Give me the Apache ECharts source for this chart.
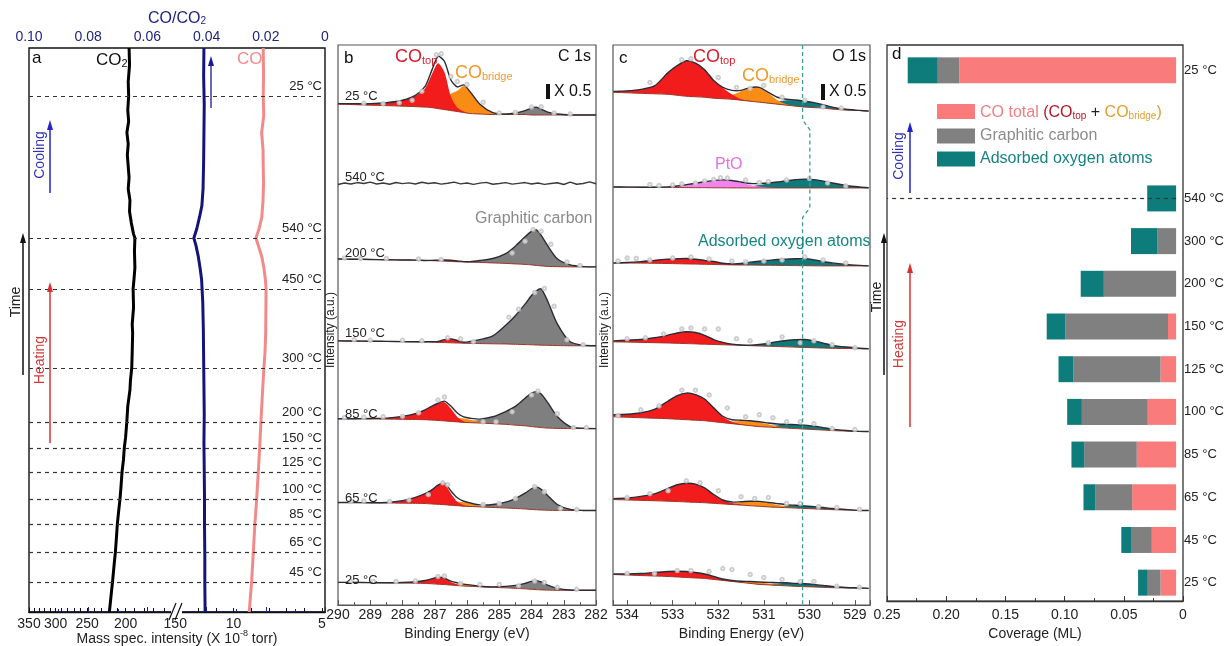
<!DOCTYPE html>
<html>
<head>
<meta charset="utf-8">
<script src="https://cdn.jsdelivr.net/npm/echarts@6/dist/echarts.min.js"></script>
<style>
html, body { margin: 0; padding: 0; background: #fff; }
#chart { width: 1227px; height: 646px; }
</style>
</head>
<body>
<div id="chart"></div>
<script>
var FONT = '"Liberation Sans", Arial, Helvetica, sans-serif';

// ---- panel a : mass spec traces against time (0 = start of heating) ----
var co2Time = [100, 97, 94, 91.5, 89, 87, 85, 83, 81, 79, 77, 75, 73, 71, 69, 67, 66.3, 64, 61, 59, 57.3, 54, 51, 49.5, 46, 43.3, 41, 39.4, 36.5, 33.7, 31, 29.1, 27, 24.8, 22, 20, 17.5, 15.6, 13, 10.6, 8, 5.7, 3, 0];
var co2Value = [196, 195.5, 197, 196.5, 197.5, 196.5, 198.5, 197, 198, 197, 196, 197, 195, 195.5, 193.5, 191, 189.5, 190, 189.5, 190.5, 191.5, 191, 192.5, 192, 192.5, 193, 194.5, 195, 197.5, 198.6, 200, 201.5, 202.5, 204.2, 205.5, 206.6, 208.5, 209.8, 211, 212.2, 214, 215.5, 217.5, 219.7];
var ratioTime = [100, 95, 90, 85, 80, 75, 72, 70, 68, 66.3, 65, 63, 61, 59, 55, 50, 45, 40, 35, 30, 25, 20, 15, 10, 5, 0];
var ratioValue = [0.0409, 0.0410, 0.0408, 0.0409, 0.0410, 0.0412, 0.0416, 0.0424, 0.0433, 0.0443, 0.0436, 0.0428, 0.0422, 0.0417, 0.0413, 0.0411, 0.0410, 0.0409, 0.0408, 0.0409, 0.0408, 0.0407, 0.0407, 0.0406, 0.0406, 0.0405];
var coTime = [100, 95, 91.5, 88, 85, 82, 79, 76, 73, 70, 68, 66.3, 64.5, 63, 61, 59, 57.3, 53, 49.5, 46, 43.3, 39, 33.7, 29.1, 24.8, 20, 15.6, 10.6, 5.7, 0];
var coValue = [8.32, 8.30, 8.32, 8.29, 8.41, 8.33, 8.32, 8.30, 8.33, 8.40, 8.55, 8.73, 8.55, 8.40, 8.28, 8.20, 8.16, 8.17, 8.18, 8.22, 8.28, 8.36, 8.45, 8.52, 8.60, 8.69, 8.79, 8.88, 8.97, 9.11];
var stepTime = [91.5, 66.3, 57.3, 43.3, 33.7, 29.1, 24.8, 20, 15.6, 10.6, 5.3];
var stepLabel = ['25 °C', '540 °C', '450 °C', '300 °C', '200 °C', '150 °C', '125 °C', '100 °C', '85 °C', '65 °C', '45 °C'];
var co2Labels = [350, 300, 250, 200, 150];
var co2Ticks = [150, 160, 170, 180, 190, 200, 210, 220, 230, 240, 250, 260, 270, 280, 290, 300, 310, 320, 330, 340, 350];
var coLabels = [10, 5];
var coTicks = [5, 6, 7, 8, 9, 10, 11, 12, 13];

// ---- panel b : C 1s (intensity offset per spectrum) ----
var cE = [290, 289.5, 289, 288.5, 288, 287.6, 287.3, 287.1, 286.9, 286.7, 286.5, 286.3, 286.1, 285.9, 285.6, 285.2, 284.8, 284.5, 284.2, 284.0, 283.85, 283.7, 283.5, 283.2, 282.8, 282.4, 282];
var c25cBg = [508, 507.5, 507, 506.5, 506, 505.5, 505, 504.5, 503.5, 502.5, 501.5, 500.5, 499.5, 498.5, 498, 497.5, 497.5, 497.5, 497.5, 497, 497, 497, 497, 497, 497, 497, 497];
var c25cTop = [0.5, 1, 1.5, 3, 6, 11, 19, 33, 46, 38, 14, 4, 1, 0, 0, 0, 0, 0, 0, 0, 0, 0, 0, 0, 0, 0, 0];
var c25cBridge = [0, 0, 0, 0, 0, 0.5, 2, 4, 7, 11, 17, 21, 27, 22, 10, 2, 0, 0, 0, 0, 0, 0, 0, 0, 0, 0, 0];
var c25cGraph = [0, 0, 0, 0, 0, 0, 0, 0, 0, 0, 0, 0, 0, 0, 0, 0, 0.5, 1.5, 4, 7, 8, 6, 3, 1, 0, 0, 0];
var c540E = [290, 289.8, 289.6, 289.4, 289.2, 289, 288.8, 288.6, 288.4, 288.2, 288, 287.8, 287.6, 287.4, 287.2, 287, 286.8, 286.6, 286.4, 286.2, 286, 285.8, 285.6, 285.4, 285.2, 285, 284.8, 284.6, 284.4, 284.2, 284, 283.8, 283.6, 283.4, 283.2, 283, 282.8, 282.6, 282.4, 282.2, 282];
var c540Line = [426.5, 428, 427, 428.5, 427.5, 429, 427, 428, 426.8, 428.6, 427.4, 428.2, 427, 428.8, 427.6, 428.3, 426.9, 427.8, 428.9, 427.2, 428, 426.6, 427.9, 428.7, 426.8, 427.5, 428.4, 426.9, 427.7, 428.5, 427, 428.1, 426.7, 427.6, 428.3, 426.5, 428.9, 426.8, 427.6, 429.2, 427.3];
var c200Bg = [351, 350.8, 350.5, 350.2, 350, 349.8, 349.5, 349.3, 349, 348.8, 348.5, 348.2, 348, 347.8, 347.5, 347, 346.5, 346, 345.5, 345, 344.5, 344, 343.5, 343.2, 343, 343, 343];
var c200Top = [0, 0, 0, 0, 0, 0, 0, 0.3, 0.8, 1.2, 1.2, 0.8, 0.3, 0, 0, 0, 0, 0, 0, 0, 0, 0, 0, 0, 0, 0, 0];
var c200Graph = [0, 0, 0, 0, 0, 0, 0, 0, 0, 0, 0, 0, 0, 0.5, 2, 4.5, 10, 18, 28, 34, 36, 31, 21, 8, 2, 0.3, 0];
var c150Bg = [268, 267.8, 267.6, 267.4, 267.2, 267, 266.8, 266.6, 266.4, 266.2, 266, 265.8, 265.6, 265.4, 265.2, 265, 264.8, 264.5, 264.2, 264, 263.8, 263.6, 263.4, 263.2, 263, 263, 263];
var c150Top = [0, 0, 0, 0, 0, 0, 0.3, 0.6, 1, 3, 4, 2.5, 0.5, 0, 0, 0, 0, 0, 0, 0, 0, 0, 0, 0, 0, 0, 0];
var c150Graph = [0, 0, 0, 0, 0, 0, 0, 0, 0, 0, 0, 0, 0.5, 2, 4, 8, 19, 29, 41, 50, 55, 57, 45, 22, 4, 0.5, 0];
var c85Bg = [189, 189, 188.8, 188.6, 188.4, 188.2, 188, 187.6, 187.2, 186.8, 186.3, 185.8, 185.3, 185, 184.6, 184, 183.3, 182.5, 181.8, 181, 180.5, 180, 179.5, 179.2, 179, 179, 179];
var c85Top = [0, 0, 0.5, 1, 3, 6, 10, 14, 17.5, 19, 13, 5, 1, 0, 0, 0, 0, 0, 0, 0, 0, 0, 0, 0, 0, 0, 0];
var c85Bridge = [0, 0, 0, 0, 0, 0, 0, 0, 0, 1, 2.5, 4, 4, 3, 1, 0, 0, 0, 0, 0, 0, 0, 0, 0, 0, 0, 0];
var c85Graph = [0, 0, 0, 0, 0, 0, 0, 0, 0, 0, 0, 0, 0.5, 1.5, 3, 7, 13, 19, 28, 34, 36, 34, 26, 12, 2, 0.3, 0];
var c65Bg = [104, 104, 103.8, 103.6, 103.4, 103.2, 103, 102.6, 102.2, 101.8, 101.3, 100.8, 100.3, 100, 99.6, 99, 98.5, 98, 97.5, 97, 96.7, 96.4, 96.2, 96, 96, 96, 96];
var c65Top = [0, 0, 0, 0.5, 2.5, 6, 10, 14, 19.5, 21, 12, 4, 1, 0, 0, 0, 0, 0, 0, 0, 0, 0, 0, 0, 0, 0, 0];
var c65Bridge = [0, 0, 0, 0, 0, 0, 0, 0, 0, 1, 2.5, 4, 4, 3, 1, 0, 0, 0, 0, 0, 0, 0, 0, 0, 0, 0, 0];
var c65Graph = [0, 0, 0, 0, 0, 0, 0, 0, 0, 0, 0, 0, 0, 0.5, 1, 3, 6, 10, 16, 21, 23, 21, 15, 6, 1, 0, 0];
var c25Bg = [23, 23, 22.8, 22.6, 22.4, 22.2, 22, 21.6, 21.2, 20.8, 20.3, 19.8, 19.3, 19, 18.6, 18, 17.5, 17, 16.5, 16, 15.7, 15.4, 15.2, 15, 15, 15, 15];
var c25Top = [0, 0, 0, 0, 0.5, 1.5, 3, 5, 7, 6.5, 3, 1, 0, 0, 0, 0, 0, 0, 0, 0, 0, 0, 0, 0, 0, 0, 0];
var c25Bridge = [0, 0, 0, 0, 0, 0, 0, 0, 0, 0, 1, 1.8, 2, 1.5, 0.5, 0, 0, 0, 0, 0, 0, 0, 0, 0, 0, 0, 0];
var c25Graph = [0, 0, 0, 0, 0, 0, 0, 0, 0, 0, 0, 0, 0, 0, 0, 0.5, 1.5, 3, 5.5, 8, 9, 8, 5, 2, 0.3, 0, 0];
// measured points (open circles), [binding energy, intensity]
var c25cDots = [[289.2, 509], [288.6, 508.5], [288.1, 509.5], [287.7, 512], [287.4, 521], [286.95, 558], [286.8, 559], [286.5, 536], [286.3, 531], [286.0, 528], [285.5, 510], [285.0, 499], [284.5, 499.5], [284.0, 505], [283.7, 505.5], [283.3, 499], [282.8, 498]];
var c200Dots = [[289.8, 352], [289.3, 351.5], [288.5, 351.5], [287.5, 351], [286.8, 350.5], [284.6, 357], [284.2, 369], [283.95, 381], [283.7, 379], [283.4, 366], [282.9, 348], [282.5, 344.5]];
var c150Dots = [[289.5, 269], [289.0, 268.5], [288.0, 268.5], [287.4, 268], [286.6, 271], [286.2, 270], [285.8, 267], [284.7, 292], [284.4, 300], [283.9, 317], [283.6, 321], [283.3, 303], [282.9, 269], [282.4, 264]];
var c85Dots = [[289.8, 190], [289.2, 190.5], [288.6, 191], [288.0, 191.5], [287.5, 195], [286.9, 208], [286.7, 211], [285.5, 186], [285.1, 186], [284.6, 196], [284.0, 213], [283.8, 217], [283.2, 194], [282.7, 180], [282.3, 180]];
var c65Dots = [[289.6, 105], [289.2, 105.5], [288.4, 105], [287.8, 106.5], [287.2, 112], [286.75, 124], [286.6, 122], [285.5, 102], [285.0, 103], [284.5, 108], [283.9, 120], [283.6, 115], [283.1, 98], [282.6, 97]];
var c25Dots = [[289.6, 24], [288.9, 24], [288.2, 24], [287.6, 24.5], [286.9, 29], [286.7, 29.5], [286.2, 22], [285.6, 21], [285.0, 21], [284.4, 19.5], [283.9, 24.5], [283.6, 23], [283.2, 18], [282.6, 16]];

// ---- panel c : O 1s ----
var oE = [534.3, 534, 533.7, 533.4, 533.1, 532.9, 532.7, 532.5, 532.3, 532.1, 531.9, 531.7, 531.5, 531.3, 531.1, 530.9, 530.7, 530.5, 530.3, 530.1, 529.9, 529.7, 529.5, 529.2, 528.9, 528.7];
var o25cBg = [520, 519.5, 519, 518.5, 518, 517, 516, 515.5, 515, 514, 513.5, 513, 512, 511, 510, 509, 508, 507, 506, 505, 504.5, 504, 503, 502, 501.5, 501];
var o25cTop = [1, 2, 4, 8, 22, 30, 36, 34, 28, 18, 11, 5, 1, 0.3, 0, 0, 0, 0, 0, 0, 0, 0, 0, 0, 0, 0];
var o25cBridge = [0, 0, 0, 0, 0, 0, 0, 0, 0, 0, 0.5, 4, 9, 13.5, 15, 10, 4, 1, 0.2, 0, 0, 0, 0, 0, 0, 0];
var o25cOx = [0, 0, 0, 0, 0, 0, 0, 0, 0, 0, 0, 0, 0, 0, 0, 1, 3, 5, 6, 6, 5, 3.5, 2, 0.8, 0.2, 0];
var o540Bg = [424, 423.9, 423.8, 423.7, 423.6, 423.5, 423.4, 423.3, 423.3, 423.2, 423.2, 423.1, 423.1, 423, 423, 423, 423, 423, 423, 423, 423, 423, 423, 423, 423, 423];
var o540PtO = [0, 0, 0, 0, 0.5, 1.5, 3, 4.5, 6, 7.5, 8, 7.5, 5.5, 3, 1.5, 0.5, 0, 0, 0, 0, 0, 0, 0, 0, 0, 0];
var o540Ox = [0, 0, 0, 0, 0, 0, 0, 0, 0, 0, 0, 0, 0.5, 1.5, 3, 4.5, 6, 7.5, 8.5, 9, 8.5, 7, 5, 2.5, 1, 0.3];
var o200Bg = [347, 346.9, 346.8, 346.6, 346.4, 346.2, 346, 345.8, 345.6, 345.4, 345.2, 345, 344.9, 344.8, 344.7, 344.6, 344.5, 344.4, 344.3, 344.2, 344.1, 344, 344, 344, 344, 344];
var o200Top = [0, 0.5, 1.5, 3, 4.5, 5, 5.5, 5, 4, 3, 1.5, 0.6, 0, 0, 0, 0, 0, 0, 0, 0, 0, 0, 0, 0, 0, 0];
var o200Ox = [0, 0, 0, 0, 0, 0, 0, 0, 0, 0, 0, 0.5, 1.5, 3, 4, 5, 6, 6.5, 7, 7, 6, 4.5, 3, 1.5, 0.5, 0];
var o150Bg = [267, 266.7, 266.4, 266.1, 265.8, 265.5, 265.2, 264.9, 264.6, 264.3, 264, 263.7, 263.4, 263.1, 262.8, 262.5, 262.2, 261.9, 261.6, 261.3, 261, 260.7, 260.4, 260.2, 260, 260];
var o150Top = [1, 2, 3, 5, 8, 10.5, 12, 11.5, 9, 5, 2.5, 1, 0.3, 0, 0, 0, 0, 0, 0, 0, 0, 0, 0, 0, 0, 0];
var o150Ox = [0, 0, 0, 0, 0, 0, 0, 0, 0, 0, 0, 0, 0, 0.5, 1.5, 3, 5, 6.5, 7.5, 8, 7, 5, 3, 1.5, 0.5, 0];
var o85Bg = [191, 190.5, 190, 189.5, 189, 188.5, 188, 187.5, 187, 186, 185, 184, 183, 182, 181, 180.5, 180, 179.5, 179, 178.5, 178, 177.5, 177, 176.5, 176, 176];
var o85Top = [2, 3, 5, 9, 18, 24, 27, 26, 22, 14, 6, 2, 0.5, 0, 0, 0, 0, 0, 0, 0, 0, 0, 0, 0, 0, 0];
var o85Bridge = [0, 0, 0, 0, 0, 0, 0, 0, 0, 0, 0.5, 2, 4, 5, 4.5, 3, 1.2, 0.3, 0, 0, 0, 0, 0, 0, 0, 0];
var o85Ox = [0, 0, 0, 0, 0, 0, 0, 0, 0, 0, 0, 0, 0, 0, 0.5, 1.2, 2.5, 3.5, 4, 4, 3.5, 2.5, 1.5, 0.6, 0.2, 0];
var o65Bg = [107, 106.6, 106.2, 105.8, 105.4, 105, 104.6, 104.2, 103.8, 103.2, 102.6, 102, 101.4, 100.8, 100.2, 99.6, 99.2, 98.8, 98.4, 98, 97.6, 97.2, 96.8, 96.4, 96, 96];
var o65Top = [1, 2, 4, 7, 13, 17, 19, 18.5, 15, 9, 4, 1.5, 0.4, 0, 0, 0, 0, 0, 0, 0, 0, 0, 0, 0, 0, 0];
var o65Bridge = [0, 0, 0, 0, 0, 0, 0, 0, 0, 0, 0, 1, 3, 4.5, 5, 4, 2.5, 1, 0.3, 0, 0, 0, 0, 0, 0, 0];
var o65Ox = [0, 0, 0, 0, 0, 0, 0, 0, 0, 0, 0, 0, 0, 0, 0, 0.5, 1.2, 2, 2.5, 2.5, 2.3, 1.8, 1.2, 0.5, 0, 0];
var o25Bg = [31, 30.5, 30, 29.5, 29, 28.5, 28, 27.5, 27, 26, 25, 24, 23, 22, 21, 20.5, 20, 19.5, 19, 18.7, 18.4, 18, 17.7, 17.4, 17.2, 17];
var o25Top = [0.5, 1, 2, 3.5, 5, 5.8, 6, 5.5, 4.5, 3, 1.5, 0.5, 0, 0, 0, 0, 0, 0, 0, 0, 0, 0, 0, 0, 0, 0];
var o25Bridge = [0, 0, 0, 0, 0, 0, 0, 0, 0, 0, 0, 0.5, 1.2, 2, 2, 1.5, 0.8, 0.3, 0, 0, 0, 0, 0, 0, 0, 0];
var o25Ox = [0, 0, 0, 0, 0, 0, 0, 0, 0, 0, 0, 0, 0, 0, 0.4, 1, 2, 2.8, 3, 3, 2.6, 2, 1.2, 0.5, 0.2, 0];
var o25cDots = [[533.5, 530], [532.8, 553], [532.6, 554], [532.0, 535], [531.6, 525], [531.3, 524], [531.0, 527], [530.6, 515], [530.1, 512], [529.7, 505], [529.3, 504]];
var o540Dots = [[533.5, 426.5], [533.3, 425.5], [533.0, 426], [532.8, 427], [532.5, 428], [532.3, 430], [532.1, 431.5], [531.95, 433.5], [531.8, 433], [531.4, 431], [531.1, 428.5], [530.9, 429.5], [530.5, 431], [530.0, 432.5], [529.6, 428], [529.2, 425]];
var o200Dots = [[534.2, 349], [534.0, 352], [533.8, 351.5], [533.5, 350], [533.0, 352], [532.6, 353], [532.2, 351], [531.7, 349], [531.4, 348], [531.0, 349], [530.6, 350], [530.1, 353], [529.7, 350], [529.2, 347]];
var o150Dots = [[534.0, 270], [533.6, 271], [533.2, 275], [532.8, 280], [532.6, 281], [532.3, 280], [532.0, 280], [531.6, 270], [531.3, 268], [530.9, 266], [530.6, 272], [530.2, 266], [529.9, 268], [529.5, 264], [529.0, 261]];
var o85Dots = [[534.2, 192], [533.7, 198], [533.3, 202], [532.8, 218], [532.5, 218], [532.2, 213], [531.8, 200], [531.4, 191], [531.1, 193], [530.8, 190], [530.5, 186], [530.2, 186], [529.9, 184], [529.5, 179], [529.0, 178]];
var o65Dots = [[534.0, 109], [533.5, 113], [533.1, 116], [532.7, 126], [532.4, 124], [532.0, 116], [531.5, 110], [531.2, 108], [530.9, 109], [530.5, 103], [530.2, 103], [529.8, 100], [529.4, 99], [528.9, 97]];
var o25Dots = [[534.0, 32], [533.4, 32], [532.9, 35], [532.6, 35], [532.2, 34], [531.9, 37], [531.7, 36], [531.3, 31], [531.0, 28], [530.6, 26], [530.2, 24], [529.9, 24], [529.4, 19], [528.9, 18]];
var oGuide = [[530.15, 568], [530.15, 492], [529.99, 482], [529.99, 403], [530.15, 393], [530.15, 0]];

// ---- panel d : coverage (ML) ----
var dCats = ['25h', '45', '65', '85', '100', '125', '150', '200', '300', '540', 'gapA', 'gapB', '25c'];
var dLabels = ['25 °C', '45 °C', '65 °C', '85 °C', '100 °C', '125 °C', '150 °C', '200 °C', '300 °C', '540 °C', '', '', '25 °C'];
var dCO = [0.0135, 0.021, 0.038, 0.034, 0.0245, 0.0135, 0.007, 0, 0, 0, '-', '-', 0.1875];
var dGraph = [0.011, 0.018, 0.032, 0.0455, 0.057, 0.0755, 0.0889, 0.0625, 0.016, 0, '-', '-', 0.0186];
var dOx = [0.0084, 0.0084, 0.0101, 0.011, 0.0127, 0.0127, 0.016, 0.020, 0.023, 0.025, '-', '-', 0.026];

var RED = '#f21c1c', ORANGE = '#f88c14', GRAY = '#7f7f7f', TEAL = '#0e7a7a', PTO = '#f282ee';
var NAVY = '#1f2580';
var SMOOTH = 0.25;

var myChart = echarts.init(document.getElementById('chart'));
var series = [];

function pairs(xs, ys) {
    return xs.map(function (x, i) { return [x, ys[i]]; });
}

// filled peak component sitting on the background, drawn through the axis scale
function peakArea(ax, E, bg, comp, color) {
    series.push({
        type: 'custom', xAxisIndex: ax, yAxisIndex: ax, data: [[E[0], bg[0]]], silent: true, z: 2, clip: true,
        renderItem: function (params, api) {
            var pts = [];
            for (var i = 0; i < E.length; i++) pts.push(api.coord([E[i], bg[i] + comp[i]]));
            for (var j = E.length - 1; j >= 0; j--) pts.push(api.coord([E[j], bg[j]]));
            return { type: 'polygon', shape: { points: pts, smooth: SMOOTH }, style: { fill: color } };
        }
    });
}
function curve(ax, E, ys, color, width, z) {
    series.push({
        type: 'custom', xAxisIndex: ax, yAxisIndex: ax, data: [[E[0], ys[0]]], silent: true, z: z, clip: true,
        renderItem: function (params, api) {
            var pts = E.map(function (e, i) { return api.coord([e, ys[i]]); });
            return { type: 'polyline', shape: { points: pts, smooth: SMOOTH }, style: { stroke: color, lineWidth: width, fill: null } };
        }
    });
}
function dots(ax, pts) {
    series.push({
        type: 'scatter', xAxisIndex: ax, yAxisIndex: ax, data: pts, symbol: 'emptyCircle', symbolSize: 3.5,
        itemStyle: { color: '#c2c2c2', borderWidth: 0.7 }, silent: true, z: 5
    });
}

function spectrum(ax, E, bg, parts) {
    parts.forEach(function (p) { peakArea(ax, E, bg, p[0], p[1]); });
    var env = bg.map(function (b, i) {
        var s = b;
        parts.forEach(function (p) { s += p[0][i]; });
        return s;
    });
    curve(ax, E, bg, '#9c3426', 1, 3);
    curve(ax, E, env, '#2c2c38', 1.4, 4);
}

// panel a traces
series.push({
    type: 'line', xAxisIndex: 1, yAxisIndex: 1, data: pairs(co2Value, co2Time),
    symbol: 'none', lineStyle: { color: '#000', width: 3 }, silent: true, z: 3
});
series.push({
    type: 'line', xAxisIndex: 2, yAxisIndex: 2, data: pairs(coValue, coTime),
    symbol: 'none', lineStyle: { color: '#f28a8a', width: 3 }, silent: true, z: 3
});
series.push({
    type: 'line', xAxisIndex: 0, yAxisIndex: 0, data: pairs(ratioValue, ratioTime),
    symbol: 'none', lineStyle: { color: '#14147a', width: 3 }, silent: true, z: 3
});
var stepLines = stepTime.map(function (t, i) {
    return { yAxis: t, label: { formatter: stepLabel[i] } };
});
stepLines.push({ yAxis: 0, lineStyle: { opacity: 0 }, label: { formatter: '25 °C' } });
series.push({
    type: 'line', xAxisIndex: 7, yAxisIndex: 0, data: [], silent: true,
    markLine: {
        silent: true, symbol: ['none', 'none'], animation: false,
        lineStyle: { color: '#333', type: [4, 4], width: 1.2 },
        label: { show: true, position: 'insideEndTop', color: '#222', fontSize: 13, fontFamily: FONT, distance: 3 },
        data: stepLines
    }
});

// panel b spectra
spectrum(3, cE, c25cBg, [[c25cGraph, GRAY], [c25cBridge, ORANGE], [c25cTop, RED]]);
series.push({
    type: 'line', xAxisIndex: 3, yAxisIndex: 3, data: pairs(c540E, c540Line), symbol: 'none',
    lineStyle: { color: '#3a3a3a', width: 1.4 }, silent: true, z: 4
});
spectrum(3, cE, c200Bg, [[c200Graph, GRAY], [c200Top, RED]]);
spectrum(3, cE, c150Bg, [[c150Graph, GRAY], [c150Top, RED]]);
spectrum(3, cE, c85Bg, [[c85Graph, GRAY], [c85Bridge, ORANGE], [c85Top, RED]]);
spectrum(3, cE, c65Bg, [[c65Graph, GRAY], [c65Bridge, ORANGE], [c65Top, RED]]);
spectrum(3, cE, c25Bg, [[c25Graph, GRAY], [c25Bridge, ORANGE], [c25Top, RED]]);
[c25cDots, c200Dots, c150Dots, c85Dots, c65Dots, c25Dots].forEach(function (d) { dots(3, d); });

// panel c spectra
spectrum(4, oE, o25cBg, [[o25cOx, TEAL], [o25cBridge, ORANGE], [o25cTop, RED]]);
spectrum(4, oE, o540Bg, [[o540Ox, TEAL], [o540PtO, PTO]]);
spectrum(4, oE, o200Bg, [[o200Ox, TEAL], [o200Top, RED]]);
spectrum(4, oE, o150Bg, [[o150Ox, TEAL], [o150Top, RED]]);
spectrum(4, oE, o85Bg, [[o85Ox, TEAL], [o85Bridge, ORANGE], [o85Top, RED]]);
spectrum(4, oE, o65Bg, [[o65Ox, TEAL], [o65Bridge, ORANGE], [o65Top, RED]]);
spectrum(4, oE, o25Bg, [[o25Ox, TEAL], [o25Bridge, ORANGE], [o25Top, RED]]);
[o25cDots, o540Dots, o200Dots, o150Dots, o85Dots, o65Dots, o25Dots].forEach(function (d) { dots(4, d); });
series.push({
    type: 'line', xAxisIndex: 4, yAxisIndex: 4, data: oGuide, symbol: 'none',
    lineStyle: { color: '#3f9a9a', width: 1.3, type: [4, 3] }, silent: true, z: 6
});

// panel d bars
series.push({
    name: 'CO total', type: 'bar', xAxisIndex: 6, yAxisIndex: 6, stack: 'cov', barWidth: 26,
    data: dCO, itemStyle: { color: '#f97b7b' }, silent: true
});
series.push({
    name: 'Graphitic carbon', type: 'bar', xAxisIndex: 6, yAxisIndex: 6, stack: 'cov', barWidth: 26,
    data: dGraph, itemStyle: { color: '#808080' }, silent: true
});
series.push({
    name: 'Adsorbed oxygen atoms', type: 'bar', xAxisIndex: 6, yAxisIndex: 6, stack: 'cov', barWidth: 26,
    data: dOx, itemStyle: { color: '#0f7c7c' }, silent: true,
    markLine: {
        silent: true, symbol: ['none', 'none'], animation: false, label: { show: false },
        lineStyle: { color: '#333', type: [4, 4], width: 1.2 },
        data: [{ yAxis: '540' }]
    }
});

function txt(x, y, text, size, color, opt) {
    opt = opt || {};
    return {
        type: 'text', x: x, y: y, rotation: opt.rot || 0, z: 100, silent: true,
        style: {
            text: text, fill: color || '#222', fontSize: size, fontFamily: FONT,
            align: opt.align || 'left', verticalAlign: 'middle', rich: opt.rich
        }
    };
}
function arrowUp(x, yFrom, yTo, color, w) {
    return [
        { type: 'line', z: 100, silent: true, shape: { x1: x, y1: yFrom, x2: x, y2: yTo + 6 }, style: { stroke: color, lineWidth: w || 1.5 } },
        { type: 'polygon', z: 100, silent: true, shape: { points: [[x, yTo], [x - 3, yTo + 10], [x + 3, yTo + 10]] }, style: { fill: color } }
    ];
}
function subRich(color, big, small) {
    return {
        m: { fontSize: big, fill: color, fontFamily: FONT, verticalAlign: 'bottom', lineHeight: big + 3 },
        s: { fontSize: small, fill: color, fontFamily: FONT, verticalAlign: 'bottom', lineHeight: small + 1 },
        u: { fontSize: small, fill: color, fontFamily: FONT, verticalAlign: 'top', lineHeight: small + 1 }
    };
}

var graphics = [];
// panel a
graphics.push(txt(32, 58, 'a', 17, '#111'));
graphics.push(txt(96, 59, '{m|CO}{s|2}', 17, '#111', { rich: subRich('#111', 17, 11) }));
graphics.push(txt(237, 59, 'CO', 17, '#f28a8a'));
graphics.push(txt(177, 17, '{m|CO/CO}{s|2}', 16, NAVY, { align: 'center', rich: subRich(NAVY, 16, 10) }));
graphics.push(txt(177, 638, '{m|Mass spec. intensity (X 10}{u|-8}{m| torr)}', 14, '#222', { align: 'center', rich: subRich('#222', 14, 9) }));
graphics.push(txt(16, 302, 'Time', 14, '#222', { align: 'center', rot: Math.PI / 2 }));
graphics.push(txt(40, 155, 'Cooling', 14, '#3030b8', { align: 'center', rot: Math.PI / 2 }));
graphics.push(txt(40, 360, 'Heating', 14, '#d23a3a', { align: 'center', rot: Math.PI / 2 }));
graphics = graphics.concat(arrowUp(23, 375, 233, '#111', 1.5));
graphics = graphics.concat(arrowUp(50, 193, 120, '#2424c8', 1.5));
graphics = graphics.concat(arrowUp(50, 443, 282, '#d83030', 1.5));
graphics = graphics.concat(arrowUp(211, 108, 56, '#1a1a90', 1.3));
graphics.push({ type: 'rect', z: 100, silent: true, shape: { x: 171, y: 604, width: 11, height: 14 }, style: { fill: '#fff' } });
graphics.push({ type: 'line', z: 101, silent: true, shape: { x1: 169, y1: 620, x2: 176, y2: 603 }, style: { stroke: '#111', lineWidth: 1.2 } });
graphics.push({ type: 'line', z: 101, silent: true, shape: { x1: 175, y1: 620, x2: 182, y2: 603 }, style: { stroke: '#111', lineWidth: 1.2 } });
// panel b
graphics.push(txt(344, 58, 'b', 17, '#111'));
graphics.push(txt(591, 57, 'C 1s', 16, '#111', { align: 'right' }));
graphics.push(txt(395, 56, '{m|CO}{s|top}', 18, '#d81e2e', { rich: subRich('#d81e2e', 18, 11) }));
graphics.push(txt(455, 72, '{m|CO}{s|bridge}', 18, '#ef9a2e', { rich: subRich('#ef9a2e', 18, 11) }));
graphics.push({ type: 'rect', z: 100, silent: true, shape: { x: 546, y: 84, width: 4, height: 15 }, style: { fill: '#111' } });
graphics.push(txt(554, 92, 'X 0.5', 16, '#111'));
graphics.push(txt(475, 219, 'Graphitic carbon', 16, '#8a8a8a'));
[['25 °C', 96], ['540 °C', 177], ['200 °C', 253], ['150 °C', 333], ['85 °C', 414], ['65 °C', 498], ['25 °C', 580]].forEach(function (t) {
    graphics.push(txt(345, t[1], t[0], 13, '#222'));
});
graphics.push(txt(331, 330, 'Intensity (a.u.)', 12, '#222', { align: 'center', rot: Math.PI / 2 }));
// panel c
graphics.push(txt(619, 58, 'c', 17, '#111'));
graphics.push(txt(866, 57, 'O 1s', 16, '#111', { align: 'right' }));
graphics.push(txt(693, 56, '{m|CO}{s|top}', 18, '#d81e2e', { rich: subRich('#d81e2e', 18, 11) }));
graphics.push(txt(742, 75, '{m|CO}{s|bridge}', 18, '#ef9a2e', { rich: subRich('#ef9a2e', 18, 11) }));
graphics.push({ type: 'rect', z: 100, silent: true, shape: { x: 821, y: 84, width: 4, height: 16 }, style: { fill: '#111' } });
graphics.push(txt(829, 92, 'X 0.5', 16, '#111'));
graphics.push(txt(715, 165, 'PtO', 16, '#e870e0'));
graphics.push(txt(698, 242, 'Adsorbed oxygen atoms', 16, '#178585'));
graphics.push(txt(605, 330, 'Intensity (a.u.)', 12, '#222', { align: 'center', rot: Math.PI / 2 }));
// panel d
graphics.push(txt(892, 54, 'd', 17, '#111'));
graphics.push(txt(877, 297, 'Time', 14, '#222', { align: 'center', rot: Math.PI / 2 }));
graphics.push(txt(899, 156, 'Cooling', 14, '#3030b8', { align: 'center', rot: Math.PI / 2 }));
graphics.push(txt(899, 344, 'Heating', 14, '#d23a3a', { align: 'center', rot: Math.PI / 2 }));
graphics = graphics.concat(arrowUp(884, 375, 233, '#111', 1.5));
graphics = graphics.concat(arrowUp(910, 193, 122, '#2424c8', 1.5));
graphics = graphics.concat(arrowUp(910, 427, 263, '#d83030', 1.5));

var axisText = { color: '#222', fontSize: 14, fontFamily: FONT };
function hiddenAxis(g, min, max, inverse) {
    return { gridIndex: g, type: 'value', min: min, max: max, inverse: !!inverse, show: false };
}

option = {
    animation: false,
    backgroundColor: '#fff',
    textStyle: { fontFamily: FONT },
    grid: [
        { left: 29, top: 48, width: 296, height: 564, show: true, borderColor: '#111', borderWidth: 1.4 },
        { left: 29, top: 48, width: 148, height: 564 },
        { left: 177, top: 48, width: 148, height: 564 },
        { left: 338, top: 45, width: 258, height: 568, show: true, borderColor: '#555', borderWidth: 1.2 },
        { left: 613, top: 45, width: 257, height: 568, show: true, borderColor: '#555', borderWidth: 1.2 },
        { left: 887, top: 45, width: 296, height: 563, show: true, borderColor: '#333', borderWidth: 1.3 },
        { left: 887, top: 49, width: 296, height: 555 }
    ],
    xAxis: [
        {
            gridIndex: 0, type: 'value', position: 'top', min: 0, max: 0.1, interval: 0.02, inverse: true,
            axisLine: { lineStyle: { color: NAVY, width: 1.6 } },
            axisTick: { inside: false, length: 5, lineStyle: { color: NAVY } },
            minorTick: { show: true, splitNumber: 2, length: 3, lineStyle: { color: NAVY } },
            axisLabel: { color: NAVY, fontSize: 14, fontFamily: FONT, margin: 4, formatter: function (v) { return v === 0 ? '0' : v.toFixed(2); } },
            splitLine: { show: false }
        },
        {
            gridIndex: 1, type: 'log', min: 148.5, max: 350, inverse: true,
            axisLine: { lineStyle: { color: '#111', width: 1.4 } },
            axisTick: { inside: true, length: 4, customValues: co2Ticks, lineStyle: { color: '#111' } },
            axisLabel: Object.assign({ customValues: co2Labels, margin: 5 }, axisText),
            splitLine: { show: false }, minorTick: { show: false }
        },
        {
            gridIndex: 2, type: 'value', min: 4.83, max: 13.19, inverse: true,
            axisLine: { lineStyle: { color: '#111', width: 1.4 } },
            axisTick: { inside: true, length: 4, customValues: coTicks, lineStyle: { color: '#111' } },
            axisLabel: Object.assign({ customValues: coLabels, margin: 5 }, axisText),
            splitLine: { show: false }
        },
        {
            gridIndex: 3, type: 'value', min: 282, max: 290, interval: 1, inverse: true,
            axisLine: { lineStyle: { color: '#555', width: 1.2 } },
            axisTick: { inside: true, length: 5, lineStyle: { color: '#555' } },
            minorTick: { show: true, splitNumber: 2, length: 3, lineStyle: { color: '#555' } },
            axisLabel: Object.assign({ margin: 3 }, axisText),
            splitLine: { show: false },
            name: 'Binding Energy (eV)', nameLocation: 'middle', nameGap: 19, nameTextStyle: axisText
        },
        {
            gridIndex: 4, type: 'value', min: 528.67, max: 534.31, splitNumber: 5, inverse: true,
            axisLine: { lineStyle: { color: '#555', width: 1.2 } },
            axisTick: { inside: true, length: 5, lineStyle: { color: '#555' } },
            minorTick: { show: true, splitNumber: 2, length: 3, lineStyle: { color: '#555' } },
            axisLabel: Object.assign({ margin: 3, showMinLabel: false, showMaxLabel: false }, axisText),
            splitLine: { show: false },
            name: 'Binding Energy (eV)', nameLocation: 'middle', nameGap: 19, nameTextStyle: axisText
        },
        {
            gridIndex: 5, type: 'value', min: 0, max: 0.25, interval: 0.05, inverse: true,
            axisLine: { lineStyle: { color: '#333', width: 1.3 } },
            axisTick: { inside: true, length: 5, lineStyle: { color: '#333' } },
            minorTick: { show: true, splitNumber: 2, length: 3, lineStyle: { color: '#333' } },
            axisLabel: Object.assign({ margin: 7, formatter: function (v) { return v === 0 ? '0' : v.toFixed(2); } }, axisText),
            splitLine: { show: false },
            name: 'Coverage (ML)', nameLocation: 'middle', nameGap: 22, nameTextStyle: axisText
        },
        hiddenAxis(6, 0, 0.25, true),
        hiddenAxis(0, 0, 1)
    ],
    yAxis: [
        hiddenAxis(0, 0, 100),
        hiddenAxis(1, 0, 100),
        hiddenAxis(2, 0, 100),
        hiddenAxis(3, 0, 568),
        hiddenAxis(4, 0, 568),
        hiddenAxis(5, 0, 1),
        {
            gridIndex: 6, type: 'category', position: 'right', data: dCats,
            axisLine: { show: false }, axisTick: { show: false },
            axisLabel: { color: '#222', fontSize: 13, fontFamily: FONT, margin: 8, formatter: function (v, i) { return dLabels[i]; } }
        }
    ],
    legend: {
        data: [
            { name: 'CO total', textStyle: { color: '#f08080' } },
            { name: 'Graphitic carbon', textStyle: { color: '#8c8c8c' } },
            { name: 'Adsorbed oxygen atoms', textStyle: { color: '#168282' } }
        ],
        orient: 'vertical', left: 932, top: 99, itemWidth: 38, itemHeight: 15, itemGap: 7,
        icon: 'rect', selectedMode: false,
        textStyle: {
            fontSize: 16, fontFamily: FONT,
            rich: {
                p: { color: '#f08080', fontSize: 16, fontFamily: FONT, verticalAlign: 'bottom', lineHeight: 19 },
                r: { color: '#b0182a', fontSize: 16, fontFamily: FONT, verticalAlign: 'bottom', lineHeight: 19 },
                rs: { color: '#b0182a', fontSize: 10, fontFamily: FONT, verticalAlign: 'bottom', lineHeight: 11 },
                k: { color: '#222', fontSize: 16, fontFamily: FONT, verticalAlign: 'bottom', lineHeight: 19 },
                o: { color: '#e0a030', fontSize: 16, fontFamily: FONT, verticalAlign: 'bottom', lineHeight: 19 },
                os: { color: '#e0a030', fontSize: 10, fontFamily: FONT, verticalAlign: 'bottom', lineHeight: 11 }
            }
        },
        formatter: function (name) {
            if (name === 'CO total') return '{p|CO total }{r|(CO}{rs|top}{k| + }{o|CO}{os|bridge}{o|)}';
            return name;
        }
    },
    graphic: graphics,
    series: series
};
myChart.setOption(option, true);
</script>
</body>
</html>
